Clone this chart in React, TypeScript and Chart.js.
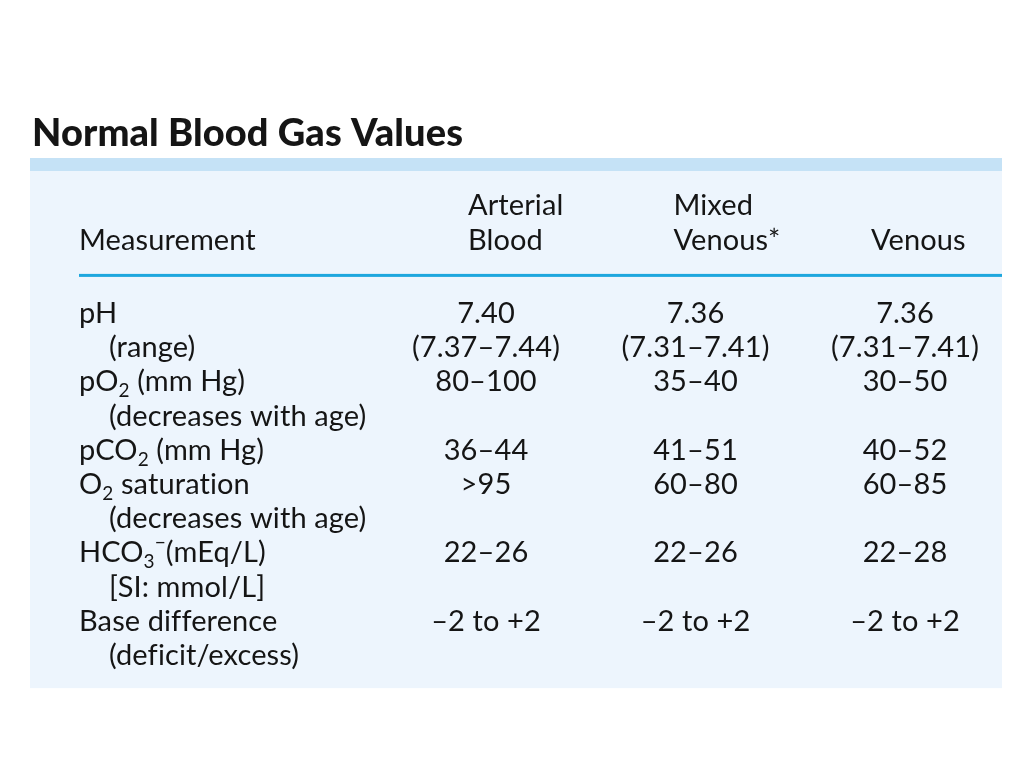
import React, { useEffect, useRef } from "react";
import { Chart, registerables } from "chart.js";

Chart.register(...registerables);

// ---------- data ----------
const TITLE = "Normal Blood Gas Values";
const LABEL_HEADER = "Measurement";
const COLUMNS = ["Arterial Blood", "Mixed Venous*", "Venous"];
const COLUMN_HEADER_LINES = [
  ["Arterial", "Blood"],
  ["Mixed", "Venous*"],
  ["", "Venous"],
];
// "_x" = subscript character, "^x" = superscript character
const ROW_LABELS = [
  "pH",
  "(range)",
  "pO_2 (mm Hg)",
  "(decreases with age)",
  "pCO_2 (mm Hg)",
  "O_2 saturation",
  "(decreases with age)",
  "HCO_3^−(mEq/L)",
  "[SI: mmol/L]",
  "Base difference",
  "(deficit/excess)",
];
const ARTERIAL = ["7.40", "(7.37–7.44)", "80–100", "", "36–44", ">95", "", "22–26", "", "–2 to +2", ""];
const MIXED_VENOUS = ["7.36", "(7.31–7.41)", "35–40", "", "41–51", "60–80", "", "22–26", "", "–2 to +2", ""];
const VENOUS = ["7.36", "(7.31–7.41)", "30–50", "", "40–52", "60–85", "", "22–28", "", "–2 to +2", ""];
const COLUMN_VALUES = [ARTERIAL, MIXED_VENOUS, VENOUS];

// ---------- style ----------
const W = 1008;
const H = 752;
const FONT = "Lato";
const BODY_SIZE = 29;
const TITLE_SIZE = 38;
const TEXT_COLOR = "#151515";
const PANEL_COLOR = "#edf5fd";
const STRIPE_COLOR = "#c5e2f6";
const RULE_COLOR = "#1ea7de";
const HEADER_INDENT = [-18, -22, -34];

function drawRich(ctx: CanvasRenderingContext2D, text: string, x: number, y: number, size: number) {
  const parts = text.split(/(_.|\^.)/).filter((p) => p.length > 0);
  let cx = x;
  for (const p of parts) {
    if (p[0] === "_" || p[0] === "^") {
      const ch = p.slice(1);
      ctx.font = `${Math.round(size * 0.66)}px ${FONT}`;
      const dy = p[0] === "_" ? size * 0.2 : -size * 0.45;
      ctx.fillText(ch, cx, y + dy);
      cx += ctx.measureText(ch).width;
    } else {
      ctx.font = `${size}px ${FONT}`;
      ctx.fillText(p, cx, y);
      cx += ctx.measureText(p).width;
    }
  }
}

const tablePlugin = {
  id: "bloodGasTable",
  beforeDraw(chart: any) {
    const ctx: CanvasRenderingContext2D = chart.ctx;
    const area = chart.chartArea;
    ctx.save();
    ctx.fillStyle = STRIPE_COLOR;
    ctx.fillRect(22, 150, 972, 13);
    ctx.fillStyle = PANEL_COLOR;
    ctx.fillRect(22, 163, 972, area.bottom + 16 - 163);
    ctx.fillStyle = RULE_COLOR;
    ctx.fillRect(71, area.top - 22, 994 - 71, 3);
    ctx.restore();
  },
  afterDraw(chart: any) {
    const ctx: CanvasRenderingContext2D = chart.ctx;
    const area = chart.chartArea;
    const xs = chart.scales.x;
    const ys = chart.scales.y;
    ctx.save();
    (ctx as any).letterSpacing = "0.1px";
    ctx.fillStyle = TEXT_COLOR;
    ctx.textBaseline = "alphabetic";

    // title
    ctx.textAlign = "left";
    ctx.font = `900 ${TITLE_SIZE}px ${FONT}`;
    ctx.fillText(TITLE, 24, 138);

    // headers
    ctx.font = `${BODY_SIZE}px ${FONT}`;
    const h2 = area.top - 46;
    const h1 = h2 - 35;
    ctx.fillText(LABEL_HEADER, 71, h2);
    COLUMN_HEADER_LINES.forEach((lines, c) => {
      const left = xs.getPixelForValue(c) + HEADER_INDENT[c];
      ctx.textAlign = "left";
      if (lines[0]) ctx.fillText(lines[0], left, h1);
      if (lines[1]) ctx.fillText(lines[1], left, h2);
    });

    // row labels
    ROW_LABELS.forEach((label, r) => {
      const base = ys.getPixelForValue(r) + 10;
      const indented = label.startsWith("(") || label.startsWith("[");
      ctx.textAlign = "left";
      drawRich(ctx, label, indented ? 101 : 71, base, BODY_SIZE);
    });

    // values
    ctx.font = `${BODY_SIZE}px ${FONT}`;
    ctx.textAlign = "center";
    COLUMN_VALUES.forEach((vals, c) => {
      const cx = xs.getPixelForValue(c);
      vals.forEach((v, r) => {
        if (!v) return;
        ctx.fillText(v, cx, ys.getPixelForValue(r) + 10);
      });
    });
    ctx.restore();
  },
};

export default function App() {
  const ref = useRef<HTMLCanvasElement>(null);
  useEffect(() => {
    const chart = new Chart(ref.current as HTMLCanvasElement, {
      type: "scatter",
      data: { datasets: [] },
      options: {
        animation: false,
        responsive: false,
        devicePixelRatio: 1,
        layout: { padding: { left: 373.25, right: 6.25, top: 287.9, bottom: 87.9 } },
        plugins: { legend: { display: false }, tooltip: { enabled: false }, title: { display: false } },
        scales: {
          x: { type: "category", labels: COLUMNS, offset: true, display: false },
          y: { type: "category", labels: ROW_LABELS, offset: true, display: false },
        },
      },
      plugins: [tablePlugin],
    } as any);
    return () => chart.destroy();
  }, []);
  return (
    <div style={{ width: W, height: H }}>
      <canvas ref={ref} width={W} height={H} style={{ display: "block", width: W, height: H }} />
    </div>
  );
}
